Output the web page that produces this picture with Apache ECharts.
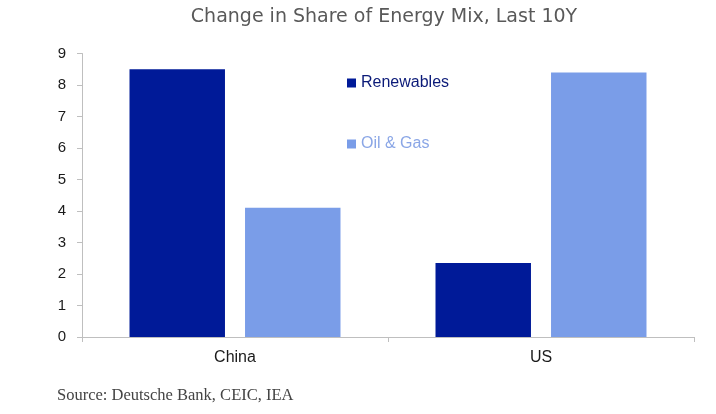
<!DOCTYPE html>
<html><head><meta charset="utf-8">
<script src="https://cdn.jsdelivr.net/npm/echarts@6/dist/echarts.min.js"></script>
<style>html,body{margin:0;padding:0;background:#fff}#c{width:716px;height:414px}</style>
</head><body><div id="c"></div>
<script>
const categories = ['China', 'US'];
const renewables = [8.5, 2.35];
const oilGas = [4.1, 8.4];
const yTicks = [0, 9, 1]; // min, max, interval
const titleText = 'Change in Share of Energy Mix, Last 10Y';
const sourceText = 'Source: Deutsche Bank, CEIC, IEA';

const chart = echarts.init(document.getElementById('c'));
chart.setOption({
  animation: false,
  backgroundColor: '#fff',
  title: [{
    text: titleText, left: 384, top: 8, textAlign: 'center', padding: 0,
    textStyle: { fontFamily: 'DejaVu Sans', fontSize: 19, fontWeight: 'normal', color: '#595959' }
  }, {
    text: sourceText, left: 57, top: 387, padding: 0,
    textStyle: { fontFamily: 'Liberation Serif, serif', fontSize: 16.5, fontWeight: 'normal', color: '#444' }
  }],
  legend: {
    orient: 'vertical', left: 347, top: 75, padding: 0, itemWidth: 9, itemHeight: 9, itemGap: 45,
    icon: 'rect',
    textStyle: { fontFamily: 'Liberation Sans, Arial', fontSize: 16 },
    data: [
      { name: 'Renewables', textStyle: { color: '#0b1a78' } },
      { name: 'Oil & Gas', textStyle: { color: '#8aa6e6' } }
    ]
  },
  grid: { left: 82, right: 22, top: 53.5, bottom: 77, containLabel: false },
  xAxis: {
    type: 'category', data: categories,
    axisLine: { lineStyle: { color: '#bfbfbf' } },
    axisTick: { show: true, length: 5, lineStyle: { color: '#bfbfbf' } },
    axisLabel: { fontFamily: 'Liberation Sans, Arial', fontSize: 16, color: '#1a1a1a', margin: 13 }
  },
  yAxis: {
    type: 'value', min: yTicks[0], max: yTicks[1], interval: yTicks[2],
    axisLine: { show: true, lineStyle: { color: '#bfbfbf' } },
    axisTick: { show: true, length: 5, lineStyle: { color: '#bfbfbf' } },
    splitLine: { show: false },
    axisLabel: { fontFamily: 'Liberation Sans, Arial', fontSize: 15, color: '#1a1a1a', margin: 16 }
  },
  series: [
    { name: 'Renewables', type: 'bar', data: renewables, barWidth: '31.2%', barGap: '21%',
      itemStyle: { color: '#001a98' } },
    { name: 'Oil & Gas', type: 'bar', data: oilGas, barWidth: '31.2%', barGap: '21%',
      itemStyle: { color: '#7a9de8' } }
  ]
});
</script></body></html>
